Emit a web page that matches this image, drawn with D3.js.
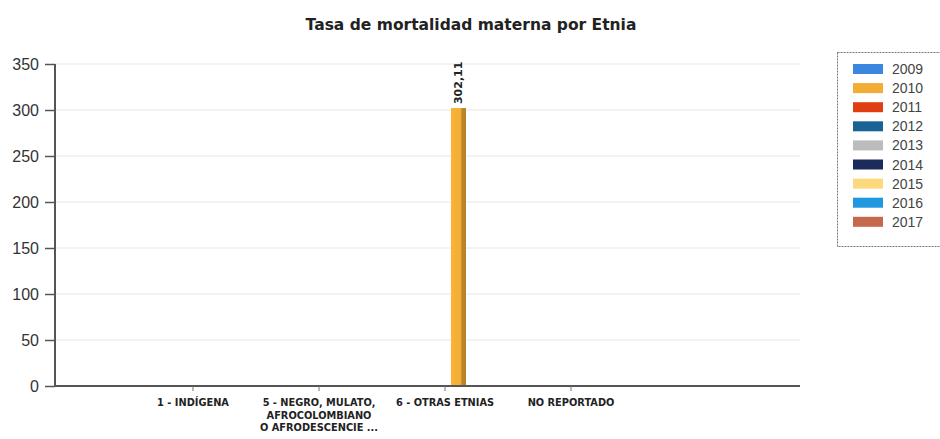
<!DOCTYPE html>
<html><head><meta charset="utf-8">
<script src="https://cdn.jsdelivr.net/npm/d3@7"></script>
<style>
html,body{margin:0;padding:0;background:#fff;}
svg{display:block;}
</style></head>
<body>
<svg id="chart" width="940" height="439"></svg>
<script>
// ---- data ----
const categories = ["1 - INDÍGENA", "5 - NEGRO, MULATO, AFROCOLOMBIANO O AFRODESCENCIENTE", "6 - OTRAS ETNIAS", "NO REPORTADO"];
const categoryLabels = [["1 - INDÍGENA"], ["5 - NEGRO, MULATO,", "AFROCOLOMBIANO", "O AFRODESCENCIE ..."], ["6 - OTRAS ETNIAS"], ["NO REPORTADO"]];
const years = ["2009", "2010", "2011", "2012", "2013", "2014", "2015", "2016", "2017"];
const colors = ["#3b86df", "#f2ad36", "#df3e12", "#196495", "#bcbcbc", "#1b2b5c", "#fcd97c", "#1f98df", "#c6684c"];
const values2009 = [0, 0, 0, 0];
const values2010 = [0, 0, 302.11, 0];
const values2011 = [0, 0, 0, 0];
const values2012 = [0, 0, 0, 0];
const values2013 = [0, 0, 0, 0];
const values2014 = [0, 0, 0, 0];
const values2015 = [0, 0, 0, 0];
const values2016 = [0, 0, 0, 0];
const values2017 = [0, 0, 0, 0];
const yTicks = [0, 50, 100, 150, 200, 250, 300, 350];
const title = "Tasa de mortalidad materna por Etnia";

const seriesValues = [values2009, values2010, values2011, values2012, values2013, values2014, values2015, values2016, values2017];

// ---- layout ----
const svg = d3.select("#chart");
const plotLeft = 55, plotRight = 800, plotTop = 64, plotBottom = 386;

const y = d3.scaleLinear().domain([0, 350]).range([plotBottom, plotTop]);
const x0 = d3.scaleBand().domain(categories).range([130, 634]).padding(0);
const x1 = d3.scaleBand().domain(years).range([54, 54 + 9 * 15]).padding(0);

// title
svg.append("text")
  .attr("x", 471).attr("y", 30)
  .attr("text-anchor", "middle")
  .attr("font-family", "DejaVu Sans, Verdana, sans-serif")
  .attr("font-weight", "bold")
  .attr("font-size", 15.5)
  .attr("fill", "#222")
  .text(title);

// gridlines
svg.append("g").selectAll("line").data(yTicks.filter(d => d > 0)).join("line")
  .attr("x1", plotLeft).attr("x2", plotRight)
  .attr("y1", d => y(d)).attr("y2", d => y(d))
  .attr("stroke", "#e8e8e8").attr("stroke-width", 1);

// gradients for bars
const defs = svg.append("defs");
years.forEach((yr, i) => {
  const c = d3.color(colors[i]);
  const g = defs.append("linearGradient").attr("id", "g" + yr).attr("x1", "0").attr("x2", "1").attr("y1", "0").attr("y2", "0");
  g.append("stop").attr("offset", "0%").attr("stop-color", c.brighter(0.1));
  g.append("stop").attr("offset", "65%").attr("stop-color", c);
  g.append("stop").attr("offset", "72%").attr("stop-color", c.darker(0.7));
  g.append("stop").attr("offset", "100%").attr("stop-color", c.darker(0.8));
});

// bars
const groups = svg.append("g").selectAll("g").data(categories).join("g")
  .attr("transform", d => `translate(${x0(d)},0)`);
groups.each(function(cat, ci) {
  const g = d3.select(this);
  const items = years.map((yr, si) => ({ yr, v: seriesValues[si][ci] })).filter(d => d.v > 0);
  g.selectAll("rect").data(items).join("rect")
    .attr("x", d => x1(d.yr))
    .attr("width", x1.bandwidth())
    .attr("y", d => y(d.v))
    .attr("height", d => y(0) - y(d.v))
    .attr("fill", d => `url(#g${d.yr})`);
  g.selectAll("text.lbl").data(items).join("text")
    .attr("class", "lbl")
    .attr("transform", d => `translate(${x1(d.yr) + x1.bandwidth() / 2 + 3.5},${y(d.v) - 4}) rotate(-90)`)
    .attr("text-anchor", "start")
    .attr("font-family", "DejaVu Sans, Verdana, sans-serif")
    .attr("font-weight", "bold")
    .attr("font-size", 11)
    .attr("fill", "#222")
    .text(d => d3.format(".2f")(d.v).replace(".", ","));
});

// y axis
const yAxis = svg.append("g").attr("transform", `translate(${plotLeft},0)`)
  .call(d3.axisLeft(y).tickValues(yTicks).tickSize(10).tickPadding(6));
yAxis.select(".domain").attr("stroke", "#555").attr("stroke-width", 2)
  .attr("d", `M0,${plotTop}V${plotBottom + 1}`);
yAxis.selectAll(".tick line").attr("stroke", "#555").attr("stroke-width", 1.5);
yAxis.selectAll(".tick text")
  .attr("font-family", "Liberation Sans, Arial, sans-serif")
  .attr("font-size", 16).attr("fill", "#333");

// x axis
const xAxis = svg.append("g").attr("transform", `translate(0,${plotBottom})`)
  .call(d3.axisBottom(x0).tickSize(5).tickFormat(""));
xAxis.select(".domain").attr("stroke", "#555").attr("stroke-width", 2)
  .attr("d", `M${plotLeft},0H${plotRight}`);
xAxis.selectAll(".tick line").attr("stroke", "#777").attr("stroke-width", 1);
xAxis.selectAll(".tick").each(function(d, i) {
  const t = d3.select(this).append("text")
    .attr("text-anchor", "middle")
    .attr("font-family", "DejaVu Sans, Verdana, sans-serif")
    .attr("font-weight", "bold")
    .attr("font-size", 9.8)
    .attr("fill", "#222");
  categoryLabels[i].forEach((line, li) => {
    t.append("tspan").attr("x", 0).attr("y", 20 + li * 12.5).text(line);
  });
});

// legend
const legend = svg.append("g");
legend.append("rect")
  .attr("x", 837.5).attr("y", 52.5).attr("width", 110).attr("height", 194)
  .attr("fill", "#fff").attr("stroke", "#777").attr("stroke-width", 1).attr("stroke-dasharray", "2,1");
const li = legend.selectAll("g").data(years).join("g")
  .attr("transform", (d, i) => `translate(853,${64 + i * 19.1})`);
li.append("rect").attr("width", 30).attr("height", 10).attr("fill", (d, i) => colors[i]);
li.append("text").attr("x", 39).attr("y", 10)
  .attr("font-family", "Liberation Sans, Arial, sans-serif")
  .attr("font-size", 14).attr("fill", "#444")
  .text(d => d);
</script>
</body></html>
